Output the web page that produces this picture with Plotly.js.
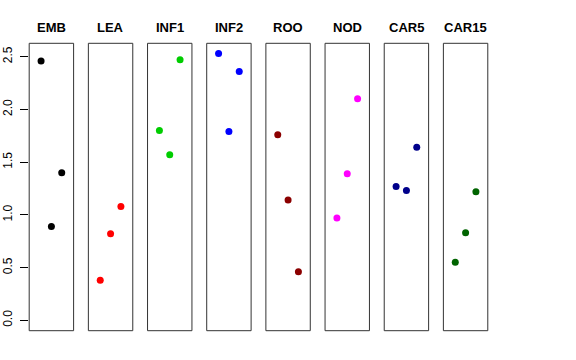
<!DOCTYPE html>
<html>
<head>
<meta charset="utf-8">
<script src="https://cdn.plot.ly/plotly-3.0.1.min.js"></script>
<style>html,body{margin:0;padding:0;background:#fff;}#chart{width:576px;height:360px;}</style>
</head>
<body>
<div id="chart"></div>
<script>
// Data
const categories = ["EMB", "LEA", "INF1", "INF2", "ROO", "NOD", "CAR5", "CAR15"];
const xPositions = [1, 2, 3];
const EMB = [2.46, 0.89, 1.40];
const LEA = [0.38, 0.82, 1.08];
const INF1 = [1.80, 1.57, 2.47];
const INF2 = [2.53, 1.79, 2.36];
const ROO = [1.76, 1.14, 0.46];
const NOD = [0.97, 1.39, 2.10];
const CAR5 = [1.27, 1.23, 1.64];
const CAR15 = [0.55, 0.83, 1.22];
const seriesValues = [EMB, LEA, INF1, INF2, ROO, NOD, CAR5, CAR15];
const colors = ["#000000", "#FF0000", "#00CD00", "#0000FF", "#8B0000", "#FF00FF", "#00008B", "#006400"];
const yTickVals = [0, 0.5, 1, 1.5, 2, 2.5];
const yTickText = ["0.0", "0.5", "1.0", "1.5", "2.0", "2.5"];

const W = 576, H = 360;
const panelLeft0 = 29.2, panelStep = 59.17, panelWidth = 44.4;
const yDom = [1 - 330.7 / H, 1 - 43.3 / H];

const traces = [];
const layout = {
  width: W, height: H,
  margin: {l: 0, r: 0, t: 0, b: 0},
  paper_bgcolor: "#ffffff",
  plot_bgcolor: "rgba(0,0,0,0)",
  showlegend: false,
  font: {family: "Liberation Sans, Arial, Helvetica, sans-serif", color: "#000"},
  shapes: [],
  annotations: [],
  yaxis: {
    domain: yDom,
    range: [-0.0986, 2.627],
    tickmode: "array",
    tickvals: yTickVals,
    ticktext: yTickText,
    ticks: "outside",
    ticklen: 8,
    tickwidth: 1,
    tickcolor: "#000",
    tickangle: -90,
    tickfont: {size: 12, color: "#000"},
    ticklabelstandoff: 3,
    showgrid: false,
    zeroline: false,
    showline: false,
    anchor: "x"
  }
};

categories.forEach((cat, i) => {
  const n = i === 0 ? "" : String(i + 1);
  const left = (panelLeft0 + panelStep * i) / W;
  const right = (panelLeft0 + panelStep * i + panelWidth) / W;
  layout["xaxis" + n] = {
    domain: [left, right],
    range: [-0.15, 4.15],
    showticklabels: false,
    ticks: "",
    showgrid: false,
    zeroline: false,
    showline: false,
    anchor: "y",
    fixedrange: true
  };
  traces.push({
    type: "scatter",
    mode: "markers",
    x: xPositions,
    y: seriesValues[i],
    xaxis: "x" + n,
    yaxis: "y",
    marker: {color: colors[i], size: 7},
    hoverinfo: "x+y"
  });
  layout.shapes.push({
    type: "rect",
    xref: "x" + n + " domain", yref: "y domain",
    x0: 0, x1: 1, y0: 0, y1: 1,
    line: {color: "#333", width: 1},
    fillcolor: "rgba(0,0,0,0)",
    layer: "above"
  });
  layout.annotations.push({
    text: "<b>" + cat + "</b>",
    xref: "x" + n + " domain", yref: "y domain",
    x: 0.5, y: 1,
    xanchor: "center", yanchor: "bottom",
    yshift: 6,
    showarrow: false,
    font: {size: 13, color: "#000"}
  });
});

Plotly.newPlot("chart", traces, layout, {staticPlot: true, displayModeBar: false});
</script>
</body>
</html>
